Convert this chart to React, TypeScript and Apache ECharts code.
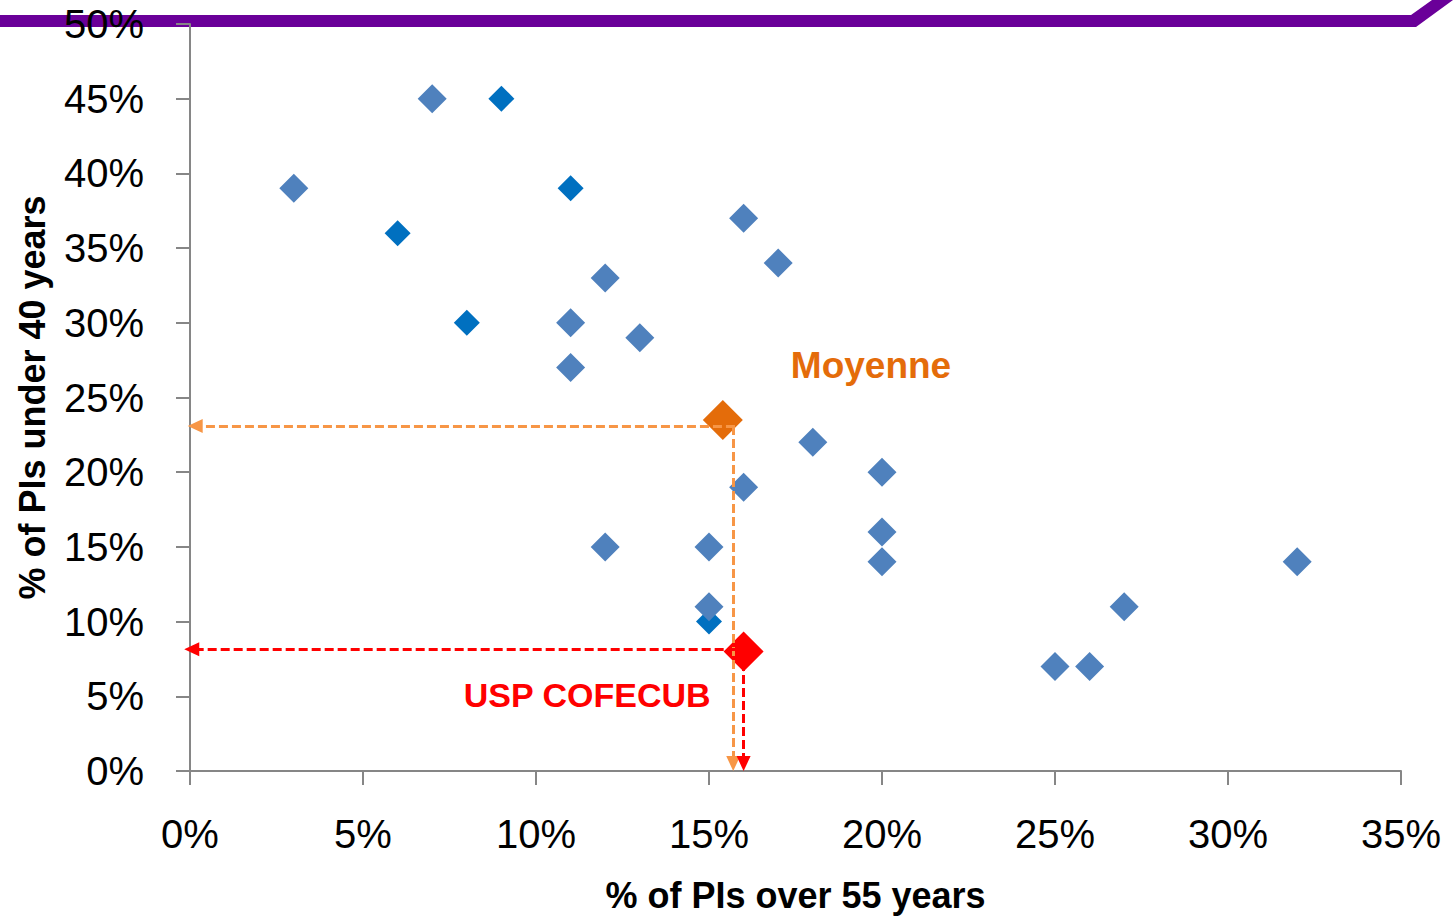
import React, { useEffect, useRef } from "react";
import * as echarts from "echarts";

// % of PIs over 55 years (x) and % of PIs under 40 years (y)
const lightPoints: [number, number][] = [
  [3, 39], [7, 45], [11, 30], [11, 27], [12, 33], [13, 29], [16, 37], [17, 34],
  [18, 22], [20, 20], [16, 19], [20, 16], [20, 14], [12, 15], [15, 15], [15, 11],
  [25, 7], [26, 7], [27, 11], [32, 14],
];
const darkPoints: [number, number][] = [
  [9, 45], [6, 36], [11, 39], [8, 30], [15, 10],
];
const meanPoint: [number, number][] = [[15.4, 23.5]];
const meanLine = { x: 15.7, y: 23.1 };
const uspPoint: [number, number][] = [[16, 8]];
const uspLine = { x: 16.0, y: 8.15 };
const xTicks = [0, 5, 10, 15, 20, 25, 30, 35];
const yTicks = [0, 5, 10, 15, 20, 25, 30, 35, 40, 45, 50];

const FONT = "Liberation Sans, Arial, sans-serif";

export default function App() {
  const ref = useRef<HTMLDivElement>(null);
  useEffect(() => {
    document.body.style.margin = "0";
    const chart = echarts.init(ref.current!, null, { renderer: "svg" });
    const axisLine = { lineStyle: { color: "#868686", width: 2 } };
    chart.setOption({
      animation: false,
      backgroundColor: "#ffffff",
      textStyle: { fontFamily: FONT },
      grid: { left: 190, right: 52, top: 24, bottom: 144, containLabel: false },
      graphic: [
        {
          type: "polygon",
          z: -10,
          shape: { points: [[0, 15], [1411, 15], [1432, 0], [1453, 0], [1416, 27], [0, 27]] },
          style: { fill: "#6A0099" },
        },
      ],
      xAxis: {
        type: "value",
        min: xTicks[0],
        max: xTicks[xTicks.length - 1],
        interval: 5,
        name: "% of PIs over 55 years",
        nameLocation: "middle",
        nameGap: 106,
        nameTextStyle: { fontFamily: FONT, fontSize: 36, fontWeight: "bold", color: "#000" },
        axisLine,
        axisTick: { show: true, length: 14, lineStyle: { color: "#868686", width: 2 } },
        axisLabel: { formatter: "{value}%", fontFamily: FONT, fontSize: 40, color: "#000", margin: 43 },
        splitLine: { show: false },
      },
      yAxis: {
        type: "value",
        min: yTicks[0],
        max: yTicks[yTicks.length - 1],
        interval: 5,
        name: "% of PIs under 40 years",
        nameLocation: "middle",
        nameGap: 140,
        nameTextStyle: { fontFamily: FONT, fontSize: 36, fontWeight: "bold", color: "#000" },
        axisLine: { show: true, ...axisLine },
        axisTick: { show: true, length: 14, lineStyle: { color: "#868686", width: 2 } },
        axisLabel: { formatter: "{value}%", fontFamily: FONT, fontSize: 40, color: "#000", margin: 46 },
        splitLine: { show: false },
      },
      series: [
        {
          type: "scatter",
          data: darkPoints,
          symbol: "diamond",
          symbolSize: 26,
          itemStyle: { color: "#0070C0", opacity: 1 },
        },
        {
          type: "scatter",
          data: lightPoints,
          symbol: "diamond",
          symbolSize: 29,
          itemStyle: { color: "#4F81BD", opacity: 1 },
        },
        {
          type: "scatter",
          data: meanPoint,
          symbol: "diamond",
          symbolSize: 40,
          z: 3,
          itemStyle: { color: "#E46C0A", opacity: 1 },
          label: {
            show: true,
            formatter: "Moyenne",
            position: "right",
            distance: 5,
            offset: [43, -54],
            fontFamily: FONT,
            fontSize: 37,
            fontWeight: "bold",
            color: "#E46C0A",
          },
          markLine: {
            silent: true,
            symbol: ["none", "triangle"],
            symbolSize: [14, 15],
            label: { show: false },
            lineStyle: { color: "#F79646", width: 3, type: [9, 4], opacity: 1 },
            data: [
              [{ coord: [meanLine.x + 0.05, meanLine.y] }, { coord: [0.15, meanLine.y] }],
              [{ coord: [meanLine.x, meanLine.y] }, { coord: [meanLine.x, 0.5] }],
            ],
          },
        },
        {
          type: "scatter",
          data: uspPoint,
          symbol: "diamond",
          symbolSize: 40,
          z: 4,
          itemStyle: { color: "#FF0000", opacity: 1 },
          label: {
            show: true,
            formatter: "USP COFECUB",
            position: "left",
            distance: 13,
            offset: [0, 44],
            fontFamily: FONT,
            fontSize: 34,
            fontWeight: "bold",
            color: "#FF0000",
          },
          markLine: {
            silent: true,
            symbol: ["none", "triangle"],
            symbolSize: [14, 15],
            label: { show: false },
            lineStyle: { color: "#FF0000", width: 3, type: [9, 4], opacity: 1 },
            data: [
              [{ coord: [uspLine.x - 0.2, uspLine.y] }, { coord: [0.05, uspLine.y] }],
              [{ coord: [uspLine.x, 7.3] }, { coord: [uspLine.x, 0.5] }],
            ],
          },
        },
      ],
    });
    return () => chart.dispose();
  }, []);
  return <div ref={ref} style={{ width: 1453, height: 918 }} />;
}
